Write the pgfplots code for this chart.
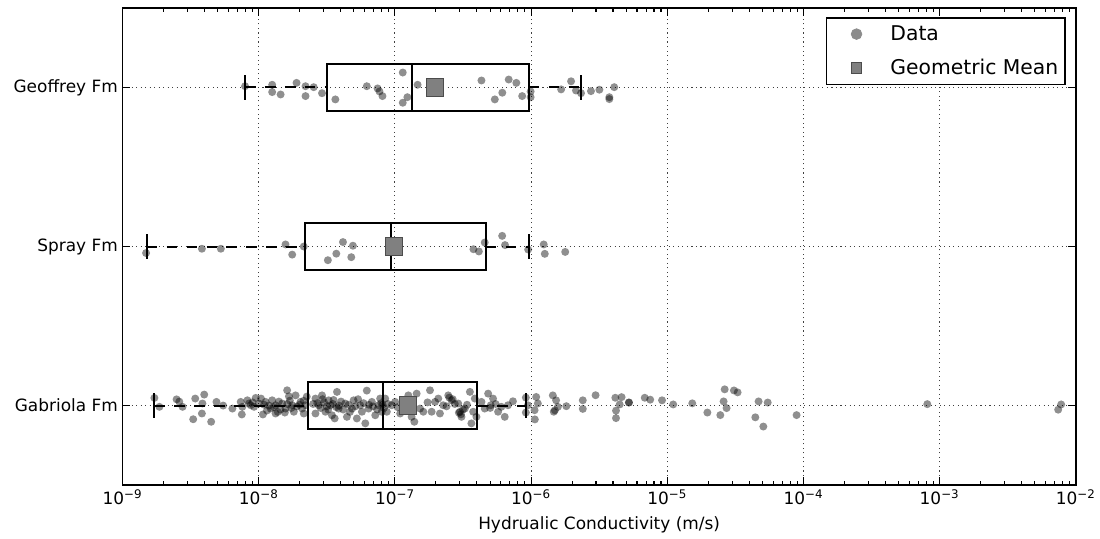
\documentclass[border=0pt]{standalone}
\usepackage{pgfplots}
\pgfplotsset{compat=1.18}
\usepackage{fontspec}
\setmainfont{DejaVu Sans}
% x values are log10 of hydraulic conductivity (m/s); y = category position + jitter
\begin{document}
\begin{tikzpicture}
\begin{axis}[
  scale only axis, width=717.75pt, height=359.25pt,
  xmin=-9, xmax=-2, ymin=0.5, ymax=3.5,
  xtick={-9,-8,-7,-6,-5,-4,-3,-2},
  xticklabels={10\textsuperscript{−9},10\textsuperscript{−8},10\textsuperscript{−7},10\textsuperscript{−6},10\textsuperscript{−5},10\textsuperscript{−4},10\textsuperscript{−3},10\textsuperscript{−2}},
  minor xtick={-8.69897,-8.52288,-8.39794,-8.30103,-8.22185,-8.15490,-8.09691,-8.04576,
    -7.69897,-7.52288,-7.39794,-7.30103,-7.22185,-7.15490,-7.09691,-7.04576,
    -6.69897,-6.52288,-6.39794,-6.30103,-6.22185,-6.15490,-6.09691,-6.04576,
    -5.69897,-5.52288,-5.39794,-5.30103,-5.22185,-5.15490,-5.09691,-5.04576,
    -4.69897,-4.52288,-4.39794,-4.30103,-4.22185,-4.15490,-4.09691,-4.04576,
    -3.69897,-3.52288,-3.39794,-3.30103,-3.22185,-3.15490,-3.09691,-3.04576,
    -2.69897,-2.52288,-2.39794,-2.30103,-2.22185,-2.15490,-2.09691,-2.04576},
  ytick={1,2,3}, yticklabels={Gabriola Fm,Spray Fm,Geoffrey Fm},
  tick align=inside,
  major tick length=6pt, minor tick length=3pt,
  tick style={black, line width=0.8pt},
  axis line style={line width=1.2pt},
  xmajorgrids, ymajorgrids,
  major grid style={black!75, dash pattern=on 0.8pt off 2.6pt, line width=0.8pt},
  tick label style={font=\fontsize{12.75}{15}\selectfont},
  label style={font=\fontsize{12.75}{15}\selectfont},
  xlabel={Hydrualic Conductivity (m/s)},
  xlabel style={yshift=-2pt},
  legend style={at={(1,1)}, anchor=north east, xshift=-7.5pt, yshift=-6.75pt,
    draw=black, line width=1.2pt, font=\fontsize{15.3}{18}\selectfont,
    inner xsep=3pt, inner ysep=4pt, row sep=8.5pt, cells={anchor=west}},
  legend image code/.code={\path[draw=none] (0pt,-4pt) rectangle (43pt,4pt);
    \draw[#1, line width=0.6pt] plot coordinates {(19.5pt,0pt)};},
]
\addlegendimage{only marks, mark=*, mark size=4pt, mark options={fill=black!45, draw=black!45}}
\addlegendentry{Data}
\addlegendimage{only marks, mark=square*, mark size=4pt, mark options={fill=gray, draw=black!70}}
\addlegendentry{Geometric Mean}

% ---------- box plots ----------
\pgfplotsset{boxline/.style={black, line width=1.5pt, line cap=rect, forget plot},
             whisk/.style={black, line width=1.5pt, dash pattern=on 8pt off 7pt, forget plot}}
% Geoffrey Fm (y=3)
\addplot[boxline] coordinates {(-7.500,2.85) (-6.016,2.85) (-6.016,3.15) (-7.500,3.15) (-7.500,2.85)};
\addplot[boxline] coordinates {(-6.871,2.85) (-6.871,3.15)};
\addplot[whisk] coordinates {(-8.100,3) (-7.500,3)};
\addplot[whisk] coordinates {(-6.016,3) (-5.635,3)};
\addplot[boxline] coordinates {(-8.100,2.925) (-8.100,3.075)};
\addplot[boxline] coordinates {(-5.635,2.925) (-5.635,3.075)};
% Spray Fm (y=2)
\addplot[boxline] coordinates {(-7.661,1.85) (-6.332,1.85) (-6.332,2.15) (-7.661,2.15) (-7.661,1.85)};
\addplot[boxline] coordinates {(-7.027,1.85) (-7.027,2.15)};
\addplot[whisk] coordinates {(-8.822,2) (-7.661,2)};
\addplot[whisk] coordinates {(-6.332,2) (-6.018,2)};
\addplot[boxline] coordinates {(-8.822,1.925) (-8.822,2.075)};
\addplot[boxline] coordinates {(-6.018,1.925) (-6.018,2.075)};
% Gabriola Fm (y=1)
\addplot[boxline] coordinates {(-7.637,0.85) (-6.394,0.85) (-6.394,1.15) (-7.637,1.15) (-7.637,0.85)};
\addplot[boxline] coordinates {(-7.086,0.85) (-7.086,1.15)};
\addplot[whisk] coordinates {(-8.766,1) (-7.637,1)};
\addplot[whisk] coordinates {(-6.394,1) (-6.035,1)};
\addplot[boxline] coordinates {(-8.766,0.925) (-8.766,1.075)};
\addplot[boxline] coordinates {(-6.035,0.925) (-6.035,1.075)};

% ---------- data points ----------
\pgfplotsset{pts/.style={only marks, mark=*, mark size=3pt, forget plot,
   mark options={fill=black, fill opacity=0.44, draw opacity=0}}}
% Geoffrey Fm
\addplot[pts] table {
x y
-8.100 3.008
-7.901 3.017
-7.901 2.971
-7.839 2.956
-7.722 3.029
-7.656 3.008
-7.656 2.946
-7.596 3.002
-7.535 2.964
-7.437 2.925
-7.206 3.008
-7.127 2.994
-7.113 2.975
-7.091 2.946
-6.942 3.094
-6.942 2.904
-6.908 2.939
-6.833 3.017
-6.364 3.044
-6.266 2.925
-6.211 2.967
-6.164 3.050
-6.108 3.029
-6.065 2.946
-6.003 2.939
-6.003 2.975
-5.779 2.988
-5.706 3.039
-5.670 2.981
-5.633 2.964
-5.560 2.977
-5.498 2.986
-5.425 2.939
-5.425 2.927
-5.389 3.002
};
% Spray Fm
\addplot[pts] table {
x y
-8.827 1.959
-8.417 1.986
-8.278 1.986
-7.803 2.013
-7.754 1.949
-7.669 2.000
-7.492 1.914
-7.430 1.955
-7.381 2.028
-7.320 1.933
-7.308 2.005
-6.423 1.983
-6.383 1.969
-6.340 2.025
-6.212 2.067
-6.191 2.009
-6.021 1.981
-5.907 2.013
-5.899 1.954
-5.749 1.966
};
% Gabriola Fm
\addplot[pts] table {
x y
-8.766 1.048
-8.729 0.992
-8.603 1.039
-8.583 1.025
-8.559 0.992
-8.466 1.044
-8.400 1.069
-8.413 1.013
-8.481 0.914
-8.417 0.950
-8.349 0.898
-8.310 1.023
-8.193 0.981
-8.132 1.023
-8.120 0.992
-8.124 0.944
-8.083 1.033
-8.059 1.002
-8.022 1.048
-8.034 0.992
-7.998 1.013
-7.949 1.023
-7.912 0.981
-7.901 1.033
-7.876 1.002
-7.876 0.950
-7.827 1.013
-7.803 0.981
-7.791 1.096
-7.778 1.058
-7.754 1.002
-7.742 0.961
-7.729 1.064
-7.693 1.023
-7.681 0.981
-7.669 0.950
-7.656 1.002
-8.071 1.013
-7.983 1.044
-7.939 0.969
-7.852 1.025
-7.808 0.956
-7.720 0.994
-7.969 0.944
-7.771 1.031
-7.647 1.056
-8.261 1.000
-7.960 1.005
-7.890 0.990
-7.840 0.975
-7.790 1.010
-7.760 0.985
-7.700 1.005
-7.670 1.030
-7.925 1.000
-7.860 0.960
-8.045 1.020
-7.583 1.044
-7.583 0.950
-7.559 1.002
-7.535 1.064
-7.510 0.961
-7.486 1.033
-7.473 1.002
-7.462 0.939
-7.442 0.919
-7.425 1.086
-7.413 0.981
-7.364 1.013
-7.352 0.929
-7.315 0.981
-7.303 1.033
-7.279 0.919
-7.254 1.002
-7.242 0.961
-7.217 0.888
-7.206 1.094
-7.193 0.981
-7.169 1.023
-7.144 0.939
-7.120 1.002
-7.108 1.044
-7.096 0.961
-7.600 1.010
-7.545 0.985
-7.520 1.020
-7.500 0.995
-7.455 1.010
-7.430 0.990
-7.395 1.025
-7.380 0.975
-7.340 1.005
-7.290 0.995
-7.230 1.015
-7.160 0.995
-7.100 1.015
-7.080 0.985
-7.570 1.015
-7.530 1.040
-7.490 0.975
-7.450 1.035
-7.410 1.000
-7.330 0.960
-7.270 1.040
-7.190 1.005
-7.130 0.975
-7.090 1.005
-7.071 1.044
-7.059 0.961
-7.023 1.002
-6.998 1.023
-6.961 0.950
-6.937 1.002
-6.901 1.064
-6.877 0.929
-6.857 0.898
-6.840 1.075
-6.815 0.981
-6.791 0.961
-6.742 1.096
-6.730 0.961
-6.705 1.023
-6.681 1.044
-6.669 0.950
-6.645 1.002
-6.608 1.064
-6.584 1.033
-6.535 1.013
-6.522 0.961
-6.511 0.929
-6.486 0.981
-6.449 1.086
-6.438 0.888
-6.425 0.961
-6.413 1.044
-6.401 0.929
-7.050 1.010
-6.980 0.990
-6.760 1.020
-6.620 0.995
-6.560 1.010
-6.500 0.975
-6.470 1.005
-6.530 0.955
-6.515 0.945
-6.600 1.050
-6.575 1.040
-6.880 1.000
-6.364 1.023
-6.340 0.981
-6.315 1.075
-6.296 1.002
-6.279 1.044
-6.242 0.961
-6.218 0.992
-6.193 0.929
-6.169 1.002
-6.133 1.027
-6.300 0.985
-6.260 1.010
-6.038 1.050
-6.038 0.956
-6.023 1.002
-5.972 0.913
-5.962 1.054
-5.950 1.013
-5.974 0.971
-5.840 1.064
-5.816 1.033
-5.803 0.992
-5.833 0.961
-5.825 0.970
-5.741 0.996
-5.620 1.033
-5.620 0.979
-5.526 1.065
-5.381 1.049
-5.335 1.053
-5.376 0.968
-5.376 0.921
-5.349 1.007
-5.281 1.019
-5.281 1.019
-5.165 1.049
-5.125 1.037
-5.038 1.033
-4.956 1.007
-4.816 1.014
-4.705 0.956
-4.610 0.940
-4.586 1.026
-4.564 0.984
-4.578 1.102
-4.510 1.095
-4.483 1.083
-4.353 0.926
-4.329 1.026
-4.294 0.868
-4.262 1.019
-4.050 0.940
-3.090 1.009
-2.129 0.974
-2.107 1.007
};

% ---------- geometric means ----------
\addplot[only marks, mark=square*, mark size=6.5pt, forget plot,
  mark options={fill=gray, draw=black!70, line width=0.8pt}] table {
x y
-6.703 3
-7.005 2
-6.906 1
};
\end{axis}
\path (-92.25pt,-40.5pt) rectangle (732.75pt,365.25pt);
\end{tikzpicture}
\end{document}
